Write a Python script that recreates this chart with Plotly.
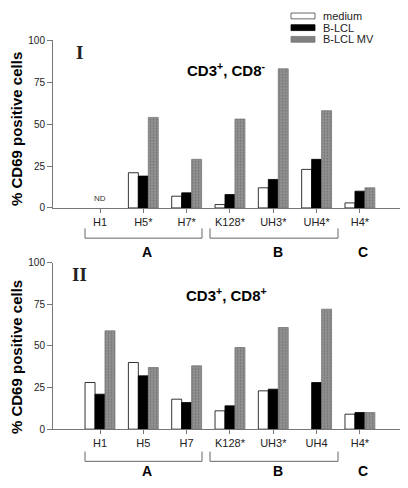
import plotly.graph_objects as go

# ---- data ----
series_names = ["medium", "B-LCL", "B-LCL MV"]
categories_top = ["H1", "H5*", "H7*", "K128*", "UH3*", "UH4*", "H4*"]
medium_top = [None, 21, 7, 2, 12, 23, 3]
blcl_top = [None, 19, 9, 8, 17, 29, 10]
blclmv_top = [None, 54, 29, 53, 83, 58, 12]

categories_bot = ["H1", "H5", "H7", "K128*", "UH3*", "UH4", "H4*"]
medium_bot = [28, 40, 18, 11, 23, None, 9]
blcl_bot = [21, 32, 16, 14, 24, 28, 10]
blclmv_bot = [59, 37, 38, 49, 61, 72, 10]

y_ticks = [0, 25, 50, 75, 100]
group_labels = ["A", "B", "C"]
panel_labels = ["I", "II"]
panel_titles = ["CD3<sup>+</sup>, CD8<sup>-</sup>", "CD3<sup>+</sup>, CD8<sup>+</sup>"]
y_title = "% CD69 positive cells"

OFF = 8  # page body margin
W, H = 408 - 2 * OFF, 488 - 2 * OFF
def px(x): return min(1.0, (x - OFF) / W)
def py(y): return 1 - (y - OFF) / H

GRAY = "#808080"
colors = ["white", "black", GRAY]
line_colors = ["black", "black", "#777777"]
patterns = [None, None, dict(shape=".", fgcolor="#555555", bgcolor="#939393", size=3, solidity=0.35)]

fig = go.Figure()
panels = [
    (categories_top, [medium_top, blcl_top, blclmv_top], "x", "y"),
    (categories_bot, [medium_bot, blcl_bot, blclmv_bot], "x2", "y2"),
]
for cats, vals, xa, ya in panels:
    for name, v, c, lc, pat in zip(series_names, vals, colors, line_colors, patterns):
        marker = dict(color=c, line=dict(color=lc, width=0.8))
        if pat:
            marker["pattern"] = pat
        fig.add_trace(go.Bar(x=cats, y=v, name=name, xaxis=xa, yaxis=ya,
                             marker=marker, showlegend=False))

axis_line = "#777777"
FONT = "Arial, Liberation Sans, sans-serif"
# axis ends at the right page edge (x=400 instead of 405), so the range is trimmed proportionally
xcommon = dict(type="category", range=[-1.085, 6.925], showline=True, linecolor=axis_line,
               linewidth=1, ticks="outside", ticklen=4, tickcolor=axis_line,
               showgrid=False, zeroline=False,
               tickfont=dict(family=FONT, size=11, color="#222"), fixedrange=True)
ycommon = dict(range=[0, 100], tickvals=y_ticks, showline=True, linecolor=axis_line,
               linewidth=1, ticks="outside", ticklen=5, tickcolor=axis_line,
               showgrid=False, zeroline=False,
               tickfont=dict(family=FONT, size=10, color="#222"), fixedrange=True)

fig.update_layout(
    width=W, height=H, margin=dict(l=0, r=0, t=0, b=0),
    paper_bgcolor="white", plot_bgcolor="white",
    barmode="group", bargap=0.31, bargroupgap=0,
    xaxis=dict(domain=[px(53), px(405)], anchor="y", **xcommon),
    yaxis=dict(domain=[py(207), py(35)], anchor="x", **ycommon),
    xaxis2=dict(domain=[px(53), px(405)], anchor="y2", **xcommon),
    yaxis2=dict(domain=[py(434), py(263)], anchor="x2", **ycommon),
)

ann = []
shapes = []

def A(x, y, text, font, **kw):
    d = dict(x=px(x), y=py(y), xref="paper", yref="paper", text=text, showarrow=False,
             xanchor="center", yanchor="middle", font=font)
    d.update(kw)
    ann.append(d)

for i, (xlab, ylab, ytitle, ybr, yabc, y_axis_mid) in enumerate([
        (79, 48, 65, 238, 252, 126), (79, 275, 296, 467, 477, 360)]):
    A(xlab, ylab, "<b>%s</b>" % panel_labels[i],
      dict(family="Liberation Serif, Times New Roman, serif", size=19, color="#222"))
    A(226, ytitle, "<b>%s</b>" % panel_titles[i], dict(family=FONT, size=15, color="black"))
    A(16, y_axis_mid, "<b>%s</b>" % y_title, dict(family=FONT, size=15, color="black"),
      textangle=-90)
    for lab, xc in zip(group_labels, [147, 278, 363]):
        A(xc, yabc, "<b>%s</b>" % lab, dict(family=FONT, size=14, color="black"))
    for x0, x1 in [(85, 202), (210, 338)]:
        path = "M %f %f L %f %f L %f %f L %f %f" % (px(x0), py(ybr - 10), px(x0), py(ybr),
                                                  px(x1), py(ybr), px(x1), py(ybr - 10))
        shapes.append(dict(type="path", xref="paper", yref="paper", path=path,
                           line=dict(color="#666666", width=1)))

# ND label
ann.append(dict(x=categories_top[0], y=0, xref="x", yref="y", text="ND", yshift=9,
                xanchor="center", yanchor="middle", showarrow=False,
                font=dict(family=FONT, size=8, color="#333")))

# manual legend
for name, c, lc, (y0, y1) in zip(series_names, colors, ["#444", "black", "#777777"],
                                 [(7, 13), (19, 25), (31, 37)]):
    shapes.append(dict(type="rect", xref="paper", yref="paper", x0=px(291), x1=px(315),
                       y0=py(y1), y1=py(y0), fillcolor=c, line=dict(color=lc, width=0.8)))
    A(321, (y0 + y1) / 2, name, dict(family=FONT, size=11, color="#222"), xanchor="left")

fig.update_layout(annotations=ann, shapes=shapes)
fig.write_html("out.html")
